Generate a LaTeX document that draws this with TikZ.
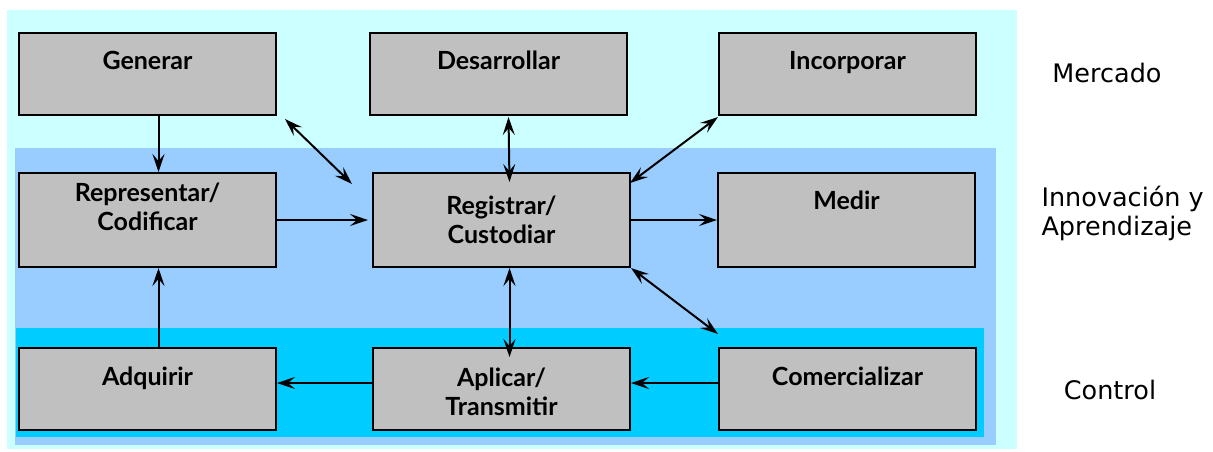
\documentclass[tikz,border=0pt]{standalone}
\usepackage{fontspec}
\setmainfont{Lato}
\newfontfamily\rotulo{DejaVu Sans}
\usepackage{tikz}
\usetikzlibrary{arrows.meta, calc}
\definecolor{mercado}{HTML}{CCFFFF}
\definecolor{innova}{HTML}{99CCFF}
\definecolor{control}{HTML}{00CCFF}
\definecolor{gris}{HTML}{C0C0C0}

\begin{document}
\begin{tikzpicture}[x=1pt, y=-1pt]
			\tikzstyle{caja}=[
			draw,
			fill=gris,
			line width=2pt,
			rectangle,
			anchor=north west,
			minimum width=257pt,
			align=center,
			font=\fontsize{25}{29}\selectfont\bfseries
			]
			\tikzstyle{baja}=[caja, minimum height=82pt, text height=18pt, text depth=28pt]
			\tikzstyle{alta}=[caja, minimum height=94pt]
			\tikzstyle{flecha}=[line width=2pt, -{Stealth[length=18pt, width=12pt, inset=7pt]}]
			\tikzstyle{dflecha}=[flecha, {Stealth[length=18pt, width=12pt, inset=7pt]}-{Stealth[length=18pt, width=12pt, inset=7pt]}]
			\tikzstyle{nivel}=[font=\rotulo\fontsize{25.5}{29}\selectfont, align=left]
			\useasboundingbox (0,0) rectangle (1213,451);
			%
			\fill[mercado] (7,10) rectangle (1017,449);
			\fill[innova] (15,148) rectangle (996,445);
			\fill[control] (16,328) rectangle (984,437);
			%
			\node[baja] (gen) at (18,32) {Generar};
			\node[baja] (des) at (369,32) {Desarrollar};
			\node[baja] (inc) at (718,32) {Incorporar};
			\node[alta, text height=40pt, text depth=20pt] (rep) at (18,172) {Representar/\\Codificar};
			\node[alta] (reg) at (372,172) {Registrar/\\Custodiar};
			\node[alta, text height=18pt, text depth=40pt] (med) at (717,172) {Medir};
			\node[baja, text depth=26pt] (adq) at (18,347) {Adquirir};
			\node[baja, text height=52pt, text depth=0pt] (apl) at (372,347) {Aplicar/\\Transmitir};
			\node[baja, text depth=26pt] (com) at (718,347) {Comercializar};
			%
			\node[nivel] (merc) at (1107,73) {Mercado};
			\node[nivel, anchor=west] (inno) at (1038,213) {Innovación y\\Aprendizaje};
			\node[nivel] (ctrl) at (1110,390) {Control};
			%
			\draw[flecha] ([xshift=11pt]gen.south) -- ([xshift=11pt]rep.north);
			\draw[flecha] ([xshift=11pt]adq.north) -- ([xshift=11pt]rep.south);
			\draw[flecha] (rep.east) -- ([xshift=-4pt]reg.west);
			\draw[flecha] (reg.east) -- (med.west);
			\draw[flecha] ([yshift=6pt]com.west) -- ([yshift=6pt]apl.east);
			\draw[flecha] ([yshift=6pt]apl.west) -- ([yshift=6pt]adq.east);
			\draw[dflecha] ($(gen.south east)+(8,3)$) -- ($(reg.north west)+(-20,12)$);
			\draw[dflecha] ($(des.south)+(10,1)$) -- ($(reg.north)+(8,10)$);
			\draw[dflecha] ($(inc.south west)+(0,1)$) -- ($(reg.north east)+(-1,11)$);
			\draw[dflecha] (reg.south east) -- ($(com.north west)+(0,-13)$);
			\draw[dflecha] ($(reg.south)+(8,0)$) -- ($(apl.north)+(8,10)$);
		\end{tikzpicture}
\end{document}
